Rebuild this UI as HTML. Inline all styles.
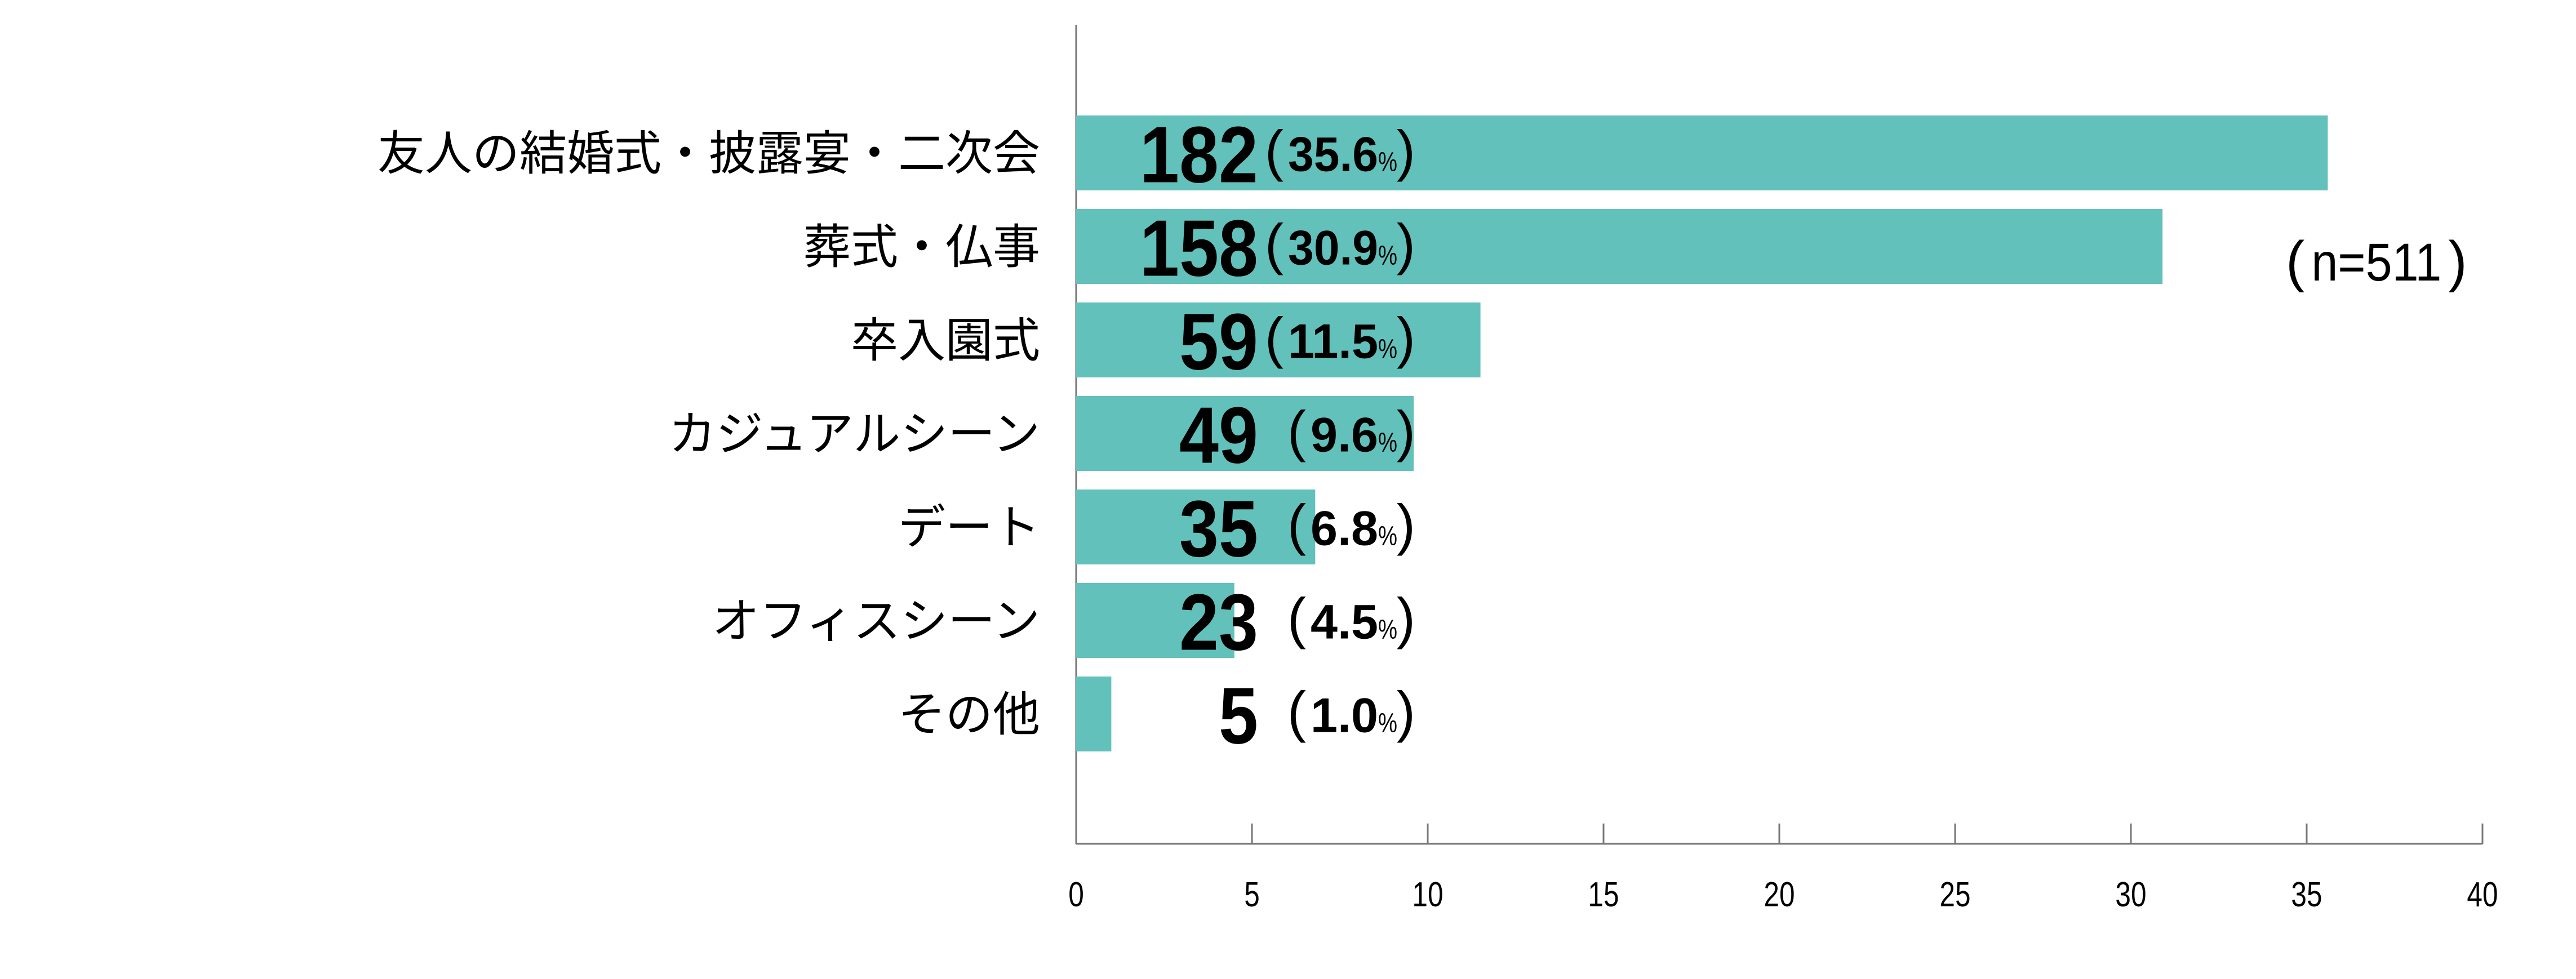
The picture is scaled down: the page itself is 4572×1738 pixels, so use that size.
<!DOCTYPE html>
<html><head><meta charset="utf-8"><style>
html,body{margin:0;padding:0;background:#fff;}
svg{display:block;}
</style></head><body>
<svg id="chart" width="4572" height="1738" viewBox="0 0 4572 1738" xmlns="http://www.w3.org/2000/svg">
<g id="axes"></g><g id="bars"></g><g id="labels"></g>
<text x="4057" y="498" font-family="Liberation Sans, sans-serif" font-size="95" fill="#000"><tspan font-size="100" dy="0">(</tspan><tspan dx="12" textLength="231" lengthAdjust="spacingAndGlyphs">n=511</tspan><tspan dx="12" font-size="100">)</tspan></text>
</svg>
<script>
const categories = ["友人の結婚式・披露宴・二次会","葬式・仏事","卒入園式","カジュアルシーン","デート","オフィスシーン","その他"];
const counts = [182,158,59,49,35,23,5];
const percents = [35.6,30.9,11.5,9.6,6.8,4.5,1.0];
const tickValues = [0,5,10,15,20,25,30,35,40];
const tickLabels = ["0","5","10","15","20","25","30","35","40"];

const NS="http://www.w3.org/2000/svg";
const X0=1910, X1=4406, XMAX=40, YTOP=205, PITCH=166, BH=133, AXY=1498;
const xs=v=>X0+(v/XMAX)*(X1-X0);
const yc=i=>YTOP+i*PITCH+BH/2;
function mk(tag,attrs,parent){const e=document.createElementNS(NS,tag);for(const k in attrs)e.setAttribute(k,attrs[k]);parent.appendChild(e);return e;}
const axes=document.getElementById('axes'),bars=document.getElementById('bars'),labels=document.getElementById('labels');

let l=mk('line',{x1:X0,y1:44,x2:X0,y2:AXY,stroke:'#777','stroke-width':3},axes);


l=mk('line',{x1:X0,y1:AXY,x2:X1,y2:AXY,stroke:'#777','stroke-width':3},axes);


tickValues.forEach((v,i)=>{
  const t=mk('line',{x1:xs(v),y1:1462,x2:xs(v),y2:AXY,stroke:'#777','stroke-width':3},axes);
  
  
  const tx=mk('text',{x:xs(v),y:1609,'text-anchor':'middle','font-family':'Liberation Sans, sans-serif','font-size':62,fill:'#000',transform:`translate(${xs(v)},0) scale(0.8,1) translate(${-xs(v)},0)`},axes);
  tx.textContent=tickLabels[i];
  
  
});
categories.forEach((c,i)=>{
  const top=YTOP+i*PITCH;
  const r=mk('rect',{x:X0,y:top,width:xs(percents[i])-X0,height:BH,fill:'#62c1bb'},bars);
  
  
  const cl=mk('text',{x:1846,y:yc(i)+30,'text-anchor':'end','font-family':'Liberation Sans, Noto Sans CJK JP, sans-serif','font-size':84,fill:'#000'},labels);
  cl.textContent=c;
  
  
  const cs=String(counts[i]);
  const n=mk('text',{x:2233,y:yc(i)+52,'text-anchor':'end','font-family':'Liberation Sans, sans-serif','font-weight':'bold','font-size':142,fill:'#000',textLength:70*cs.length,lengthAdjust:'spacingAndGlyphs'},labels);
  n.textContent=cs;
  
  
  const ps=percents[i].toFixed(1);
  const w=ps.length*40+36;
  const lp=mk('text',{x:2512,y:yc(i)+30,'text-anchor':'end','font-family':'Liberation Sans, sans-serif','font-size':100,fill:'#000'},labels);
  lp.textContent=')';
  
  
  const p=mk('text',{x:2482-w,y:yc(i)+32,'font-family':'Liberation Sans, sans-serif','font-weight':'bold','font-size':86,fill:'#000'},labels);
  const s1=mk('tspan',{textLength:ps.length*40,lengthAdjust:'spacingAndGlyphs'},p);s1.textContent=ps;
  const s2=mk('tspan',{'font-size':48,'font-weight':'normal',textLength:34,lengthAdjust:'spacingAndGlyphs'},p);s2.textContent='%';
  
  
  const op=mk('text',{x:2482-w-8,y:yc(i)+30,'text-anchor':'end','font-family':'Liberation Sans, sans-serif','font-size':100,fill:'#000'},labels);
  op.textContent='(';
  
  
});
</script>
</body></html>
